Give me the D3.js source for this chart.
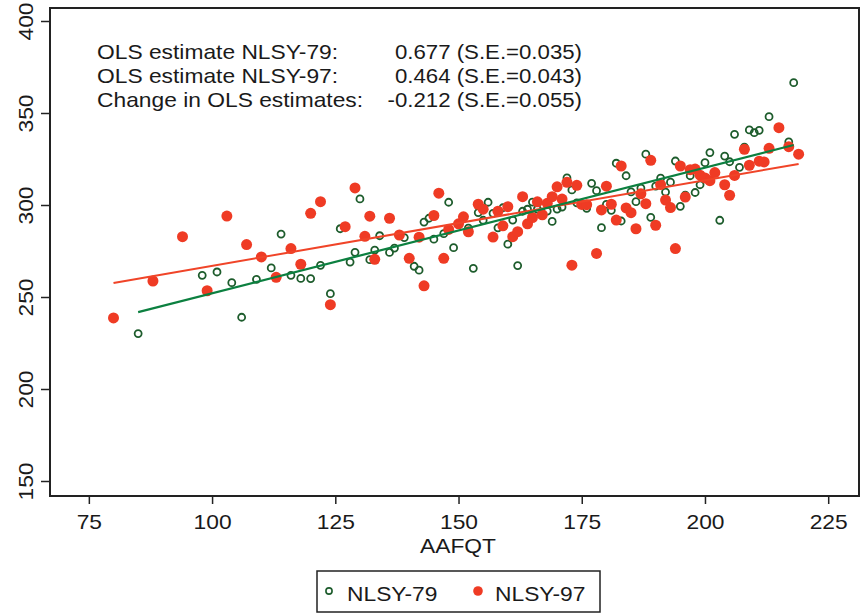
<!DOCTYPE html>
<html>
<head>
<meta charset="utf-8">
<script src="https://cdn.jsdelivr.net/npm/d3@7"></script>
<style>
  body { margin: 0; background: #fff; }
  text { font-family: "Liberation Sans", Arial, sans-serif; fill: #1a1a1a; }
</style>
</head>
<body>
<div id="chart"></div>
<script>
// NLSY-79 (hollow green) — AAFQT vs score
const nlsy79X = [85, 98, 101, 104, 106, 109, 112, 114, 116, 118, 120, 122, 124, 126, 128, 129, 130, 132, 133, 134,
  136, 137, 139, 141, 142, 143, 144, 145, 147, 148, 149, 152, 153, 154, 155, 156, 157, 158, 159, 160,
  161, 162, 163, 164, 165, 166, 168, 169, 170, 171, 172, 173, 174, 176, 177, 178, 179, 180, 181, 182,
  183, 184, 185, 186, 187, 188, 189, 190, 191, 192, 193, 194, 195, 196, 197, 198, 199, 200, 201, 203,
  204, 205, 206, 207, 208, 209, 210, 211, 213, 217, 218];
const nlsy79Y = [230.1, 261.8, 263.6, 257.8, 239, 259.6, 265.8, 284.2, 261.8, 260.1, 260, 267.2, 251.8, 287.1, 269, 274.3, 303.3, 270.3, 275.5, 283.3,
  274.2, 276.6, 282.3, 266.7, 264.6, 290.7, 292.8, 281.4, 284.4, 301.5, 276.8, 287.4, 265.6, 295.9, 291.7, 301.5, 295.5, 287.6, 298.5, 278.7,
  291.8, 267.1, 296.6, 297.7, 301.6, 297.7, 296.7, 291.1, 297.8, 298.9, 314.7, 308.2, 301.2, 298.2, 311.8, 307.8, 287.7, 300.3, 297.1, 322.7,
  291.3, 315.9, 307.1, 301.8, 309.2, 327.6, 293.3, 310.3, 314.6, 307, 312.4, 323.9, 299.3, 305.4, 315.9, 306.8, 311, 323, 328.5, 291.7,
  326.6, 323.5, 338.4, 320.5, 331.4, 340.8, 339.3, 340.6, 348, 334.3, 366.5];

// NLSY-97 (filled red)
const nlsy97X = [80, 88, 94, 99, 103, 107, 110, 113, 116, 118, 120, 122, 124, 127, 129, 131, 132, 133, 136, 138,
  140, 142, 143, 145, 146, 147, 148, 150, 151, 152, 154, 155, 157, 158, 159, 160, 161, 162, 163, 164,
  165, 166, 167, 168, 169, 170, 171, 172, 173, 174, 175, 176, 178, 179, 180, 181, 182, 183, 184, 185,
  186, 187, 188, 189, 190, 191, 192, 193, 194, 195, 196, 197, 198, 199, 200, 201, 202, 204, 205, 206,
  208, 209, 211, 212, 213, 215, 217, 219];
const nlsy97Y = [238.6, 258.7, 282.8, 253.4, 294, 278.5, 271.8, 260.7, 276.3, 267.8, 295.5, 301.8, 245.8, 288.2, 309.3, 283, 293.9, 270.5, 292.8, 283.7,
  271, 282.5, 256.1, 294.3, 306.4, 271, 286.7, 289.8, 293.6, 285.4, 300.4, 297.7, 282.6, 296.6, 288.7, 299.1, 282.8, 285.5, 304.5, 289.8,
  293.2, 301.7, 294.7, 300.9, 304.5, 309.9, 303.2, 312.3, 267.3, 310.7, 300.3, 300.2, 273.7, 297.3, 310.2, 300.4, 291.8, 321.2, 298.4, 295.8,
  287.1, 306.1, 300.7, 324.3, 289, 311.1, 302.7, 298.6, 276.3, 321.2, 304.3, 319.2, 319.5, 316.2, 314.7, 313.2, 317.6, 311, 305.3, 316.1,
  330.3, 321.6, 323.8, 323.4, 330.8, 342, 331.7, 327.6];

// fitted OLS lines (end points)
const fit79 = [[85, 241.8], [218, 332.6]];
const fit97 = [[80, 257.6], [219, 322.3]];

const xTicks = [75, 100, 125, 150, 175, 200, 225];
const yTicks = [150, 200, 250, 300, 350, 400];
const notes = [
  ["OLS estimate NLSY-79:", "0.677 (S.E.=0.035)"],
  ["OLS estimate NLSY-97:", "0.464 (S.E.=0.043)"],
  ["Change in OLS estimates:", "-0.212 (S.E.=0.055)"]
];
const seriesNames = ["NLSY-79", "NLSY-97"];

const W = 860, H = 613;
const GREEN = "#1d5c2c", GREEN_LINE = "#0c8040", RED = "#ef3b24", RED_LINE = "#f04428";
const SX = 1.14; // horizontal stretch of the lettering

const svg = d3.select("#chart").append("svg").attr("width", W).attr("height", H);

const x = d3.scaleLinear().domain([75, 225]).range([88.85, 828.2]);
const y = d3.scaleLinear().domain([150, 400]).range([481, 21]);
const frame = { left: 50, top: 8, right: 859, bottom: 496 };

// y axis
const ya = svg.append("g").attr("transform", `translate(${frame.left},0)`)
  .call(d3.axisLeft(y).tickValues(yTicks).tickSize(9));
ya.select(".domain").remove();
ya.selectAll("line").attr("stroke", "#222").attr("stroke-width", 1.5);
ya.selectAll("text")
  .attr("x", 0).attr("y", 0).attr("dy", 0)
  .attr("text-anchor", "middle")
  .attr("transform", `translate(-17,0) rotate(-90) scale(${SX},1)`)
  .style("font-size", "20px").style("font-family", "Liberation Sans, Arial, sans-serif").attr("fill", "#1a1a1a");

// x axis
const xa = svg.append("g").attr("transform", `translate(0,${frame.bottom})`)
  .call(d3.axisBottom(x).tickValues(xTicks).tickSize(8));
xa.select(".domain").remove();
xa.selectAll("line").attr("stroke", "#222").attr("stroke-width", 1.5);
xa.selectAll("text")
  .attr("x", 0).attr("y", 0).attr("dy", 0)
  .attr("transform", `translate(0,33) scale(${SX},1)`)
  .style("font-size", "20px").style("font-family", "Liberation Sans, Arial, sans-serif").attr("fill", "#1a1a1a");

// plot frame
svg.append("rect")
  .attr("x", frame.left).attr("y", frame.top)
  .attr("width", frame.right - frame.left).attr("height", frame.bottom - frame.top)
  .attr("fill", "none").attr("stroke", "#222").attr("stroke-width", 2);

function label(sel, px, py, str, anchor, size) {
  return sel.append("text")
    .attr("transform", `translate(${px},${py}) scale(${SX},1)`)
    .attr("text-anchor", anchor)
    .style("font-size", size + "px")
    .text(str);
}

label(svg, 458, 553, "AAFQT", "middle", 20);

// points
const pts79 = nlsy79X.map((v, i) => ({ x: v, y: nlsy79Y[i] }));
const pts97 = nlsy97X.map((v, i) => ({ x: v, y: nlsy97Y[i] }));

svg.append("g").selectAll("circle").data(pts79).join("circle")
  .attr("cx", d => x(d.x)).attr("cy", d => y(d.y)).attr("r", 3.5)
  .attr("fill", "none").attr("stroke", GREEN).attr("stroke-width", 1.8);

svg.append("g").selectAll("circle").data(pts97).join("circle")
  .attr("cx", d => x(d.x)).attr("cy", d => y(d.y)).attr("r", 5.5)
  .attr("fill", RED);

// fitted lines
const line = d3.line().x(d => x(d[0])).y(d => y(d[1]));
svg.append("path").attr("d", line(fit97)).attr("fill", "none").attr("stroke", RED_LINE).attr("stroke-width", 2);
svg.append("path").attr("d", line(fit79)).attr("fill", "none").attr("stroke", GREEN_LINE).attr("stroke-width", 2.2);

// annotation
notes.forEach((n, i) => {
  label(svg, 97, 59 + i * 23.8, n[0], "start", 20);
  label(svg, 582, 59 + i * 23.8, n[1], "end", 19.5);
});

// legend
const lg = svg.append("g");
lg.append("rect").attr("x", 317).attr("y", 571).attr("width", 283).attr("height", 41)
  .attr("fill", "#fff").attr("stroke", "#222").attr("stroke-width", 1.5);
lg.append("circle").attr("cx", 329).attr("cy", 591).attr("r", 3.1)
  .attr("fill", "none").attr("stroke", GREEN).attr("stroke-width", 1.6);
label(lg, 347, 601, seriesNames[0], "start", 20);
lg.append("circle").attr("cx", 478).attr("cy", 591).attr("r", 4.8).attr("fill", RED);
label(lg, 495, 601, seriesNames[1], "start", 20);
</script>
</body>
</html>
